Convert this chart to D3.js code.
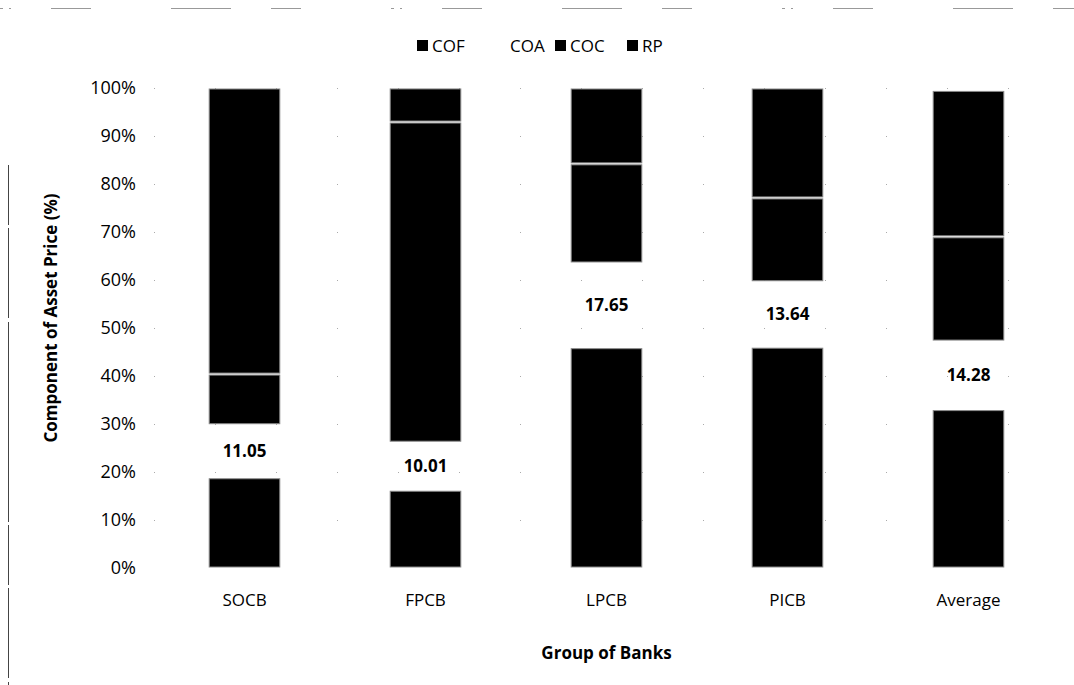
<!DOCTYPE html>
<html>
<head>
<meta charset="utf-8">
<script src="https://cdn.jsdelivr.net/npm/d3@7"></script>
<style>
  body { margin: 0; background: #fff; }
  svg text { font-family: "Open Sans", "Noto Sans", sans-serif; fill: #000; }
</style>
</head>
<body>
<svg id="chart" width="1074" height="685"></svg>
<script>
// chart data
const groups = ["SOCB", "FPCB", "LPCB", "PICB", "Average"];
const seriesNames = ["COF", "COA", "COC", "RP"];
const cof = [18.8, 16.2, 45.9, 46.0, 33.0];
const coa = [11.05, 10.01, 17.65, 13.64, 14.28];
const coc = [10.55, 66.7, 20.65, 17.46, 21.72];
const rp = [59.6, 7.1, 15.8, 22.9, 30.5];
const yTicks = [0, 10, 20, 30, 40, 50, 60, 70, 80, 90, 100];
const seriesFill = ["#000", "#fff", "#000", "#000"];

const svg = d3.select("#chart");
const margin = { left: 154, right: 15, top: 88, bottom: 117 };
const width = 1074, height = 685;

// build rows for the stack
const rows = groups.map((g, i) => ({
    group: g, COF: cof[i], COA: coa[i], COC: coc[i], RP: rp[i]
}));

const x = d3.scaleBand()
    .domain(groups)
    .range([margin.left, width - margin.right])
    .paddingInner(0.61)
    .paddingOuter(0.305);

const y = d3.scaleLinear()
    .domain([0, 100])
    .range([height - margin.bottom, margin.top]);

// faint dotted gridlines (scan look)
svg.append("g")
    .selectAll("line")
    .data(yTicks.slice(1))
    .enter().append("line")
    .attr("x1", margin.left)
    .attr("x2", width - margin.right)
    .attr("y1", (d) => y(d) + 0.5)
    .attr("y2", (d) => y(d) + 0.5)
    .attr("stroke", "#aaa")
    .attr("stroke-width", 1)
    .attr("stroke-dasharray", "1,60");

// stacked bars
const stack = d3.stack().keys(seriesNames);
const layers = svg.append("g")
    .selectAll("g")
    .data(stack(rows))
    .enter().append("g")
    .attr("fill", (d, i) => seriesFill[i]);

layers.selectAll("rect")
    .data((d) => d.filter(() => d.key !== "COA"))
    .enter().append("rect")
    .attr("x", (d) => x(d.data.group))
    .attr("width", x.bandwidth())
    .attr("y", (d) => y(d[1]) + 1)
    .attr("height", (d) => Math.max(0, y(d[0]) - y(d[1]) - 2))
    .attr("stroke", "#888")
    .attr("stroke-width", 1);

// COA value labels
const coaLayer = stack(rows)[1];
svg.append("g")
    .selectAll("text")
    .data(coaLayer)
    .enter().append("text")
    .attr("x", (d) => x(d.data.group) + x.bandwidth() / 2)
    .attr("y", (d) => (y(d[0]) + y(d[1])) / 2)
    .attr("dy", "0.35em")
    .attr("text-anchor", "middle")
    .style("font-size", "17px")
    .style("font-weight", "bold")
    .text((d) => d.data.COA.toFixed(2));

// y axis labels
const yAxis = d3.axisLeft(y)
    .tickValues(yTicks)
    .tickSize(0)
    .tickPadding(0)
    .tickFormat((d) => d + "%");
const yg = svg.append("g")
    .attr("transform", "translate(136,0)")
    .call(yAxis);
yg.select(".domain").remove();
yg.selectAll("text")
    .style("font-size", "18px")
    .style("font-family", "'Open Sans', sans-serif");

// x axis labels
const xAxis = d3.axisBottom(x).tickSize(0).tickPadding(0);
const xg = svg.append("g")
    .attr("transform", "translate(0," + 594 + ")")
    .call(xAxis);
xg.select(".domain").remove();
xg.selectAll("text")
    .style("font-size", "17px")
    .style("font-family", "'Open Sans', sans-serif");

// axis titles
svg.append("text")
    .attr("transform", "translate(57,318) rotate(-90)")
    .attr("text-anchor", "middle")
    .style("font-size", "17px")
    .style("font-weight", "bold")
    .text("Component  of Asset Price (%)");

svg.append("text")
    .attr("x", (margin.left + width - margin.right) / 2)
    .attr("y", 659)
    .attr("text-anchor", "middle")
    .style("font-size", "17px")
    .style("font-weight", "bold")
    .text("Group of Banks");

// legend
const legendX = [417, 495, 555, 627];
const legend = svg.append("g")
    .selectAll("g")
    .data(seriesNames)
    .enter().append("g")
    .attr("transform", (d, i) => "translate(" + legendX[i] + ",40)");
legend.append("rect")
    .attr("width", 11)
    .attr("height", 11)
    .attr("fill", (d, i) => seriesFill[i]);
legend.append("text")
    .attr("x", 15)
    .attr("y", 6)
    .attr("dy", "0.35em")
    .style("font-size", "17px")
    .text((d) => d);

// scan border remnants
svg.append("line")
    .attr("x1", 8.5).attr("x2", 8.5)
    .attr("y1", 165).attr("y2", 685)
    .attr("stroke", "#444")
    .attr("stroke-width", 1)
    .attr("stroke-dasharray", "60,3,90,4,200,3");
svg.append("line")
    .attr("x1", 0).attr("x2", 1074)
    .attr("y1", 8.5).attr("y2", 8.5)
    .attr("stroke", "#999")
    .attr("stroke-width", 1)
    .attr("stroke-dasharray", "3,6,2,40,40,80,60,40,30,90");
</script>
</body>
</html>
